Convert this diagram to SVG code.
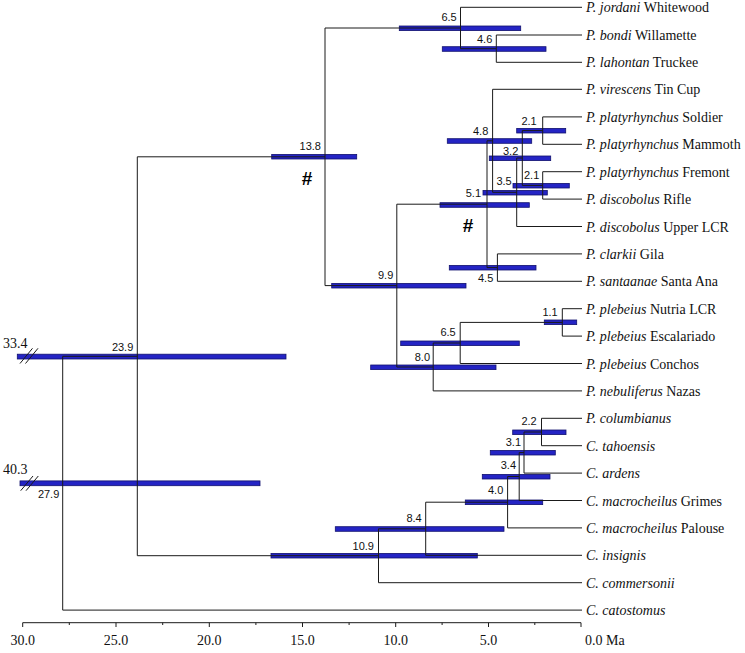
<svg xmlns="http://www.w3.org/2000/svg" width="745" height="653" viewBox="0 0 745 653">
<style>
.bar{fill:#2424c4;stroke:#12126e;stroke-width:0.8}
.age{font-family:"Liberation Sans",Arial,sans-serif;font-size:11px;fill:#111;text-anchor:end}
.tip{font-family:"Liberation Serif","Times New Roman",serif;font-size:14px;fill:#111}
.tip .i{font-style:italic}
.ax{font-family:"Liberation Serif","Times New Roman",serif;font-size:14px;fill:#111}
.br{fill:none;stroke:#1a1a1a;stroke-width:1}
.hash{font-family:"Liberation Sans",Arial,sans-serif;font-size:19px;font-weight:bold;fill:#000;text-anchor:middle}
</style>
<rect width="745" height="653" fill="#fff"/>
<g id="nodes">
<g id="n65a"><rect class="bar" x="399.3" y="26" width="121.4" height="4.6"/><text class="age" x="456.7" y="20.7">6.5</text></g>
<g id="n46"><rect class="bar" x="442.3" y="46.7" width="103.7" height="4.6"/><text class="age" x="492.3" y="43.3">4.6</text></g>
<g id="n138"><rect class="bar" x="271.7" y="154.4" width="85" height="4.6"/><text class="age" x="321" y="149.7">13.8</text><text class="hash" x="307" y="185">#</text></g>
<g id="n21a"><rect class="bar" x="516.7" y="128.4" width="49" height="4.6"/><text class="age" x="536.7" y="124.7">2.1</text></g>
<g id="n48"><rect class="bar" x="447.3" y="138.7" width="84.4" height="4.6"/><text class="age" x="488.3" y="134.7">4.8</text></g>
<g id="n32"><rect class="bar" x="489.3" y="156" width="61.4" height="4.6"/><text class="age" x="518.3" y="154.7">3.2</text></g>
<g id="n21b"><rect class="bar" x="513" y="183.4" width="56.3" height="4.6"/><text class="age" x="539.3" y="179">2.1</text></g>
<g id="n35"><rect class="bar" x="483" y="190.4" width="64.3" height="4.6"/><text class="age" x="511.7" y="184.7">3.5</text></g>
<g id="n51"><rect class="bar" x="440" y="202.7" width="89.3" height="4.6"/><text class="age" x="481" y="197.3">5.1</text><text class="hash" x="468" y="232">#</text></g>
<g id="n45"><rect class="bar" x="449.3" y="265.4" width="86.7" height="4.6"/><text class="age" x="493.3" y="281.5">4.5</text></g>
<g id="n99"><rect class="bar" x="331.7" y="283.4" width="134.3" height="4.6"/><text class="age" x="393.3" y="279">9.9</text></g>
<g id="n11"><rect class="bar" x="544.3" y="320" width="32.4" height="4.6"/><text class="age" x="557.7" y="315.7">1.1</text></g>
<g id="n65b"><rect class="bar" x="400.7" y="341" width="118.6" height="4.6"/><text class="age" x="455.7" y="335.7">6.5</text></g>
<g id="n80"><rect class="bar" x="370.7" y="365" width="125.3" height="4.6"/><text class="age" x="430" y="360.7">8.0</text></g>
<g id="n239"><rect class="bar" x="17.3" y="354.2" width="268.7" height="4.8"/><text class="age" x="133.3" y="350.7">23.9</text><text class="ax" x="3" y="347.5">33.4</text><path class="br" d="M20 363.5 L32.5 348.3 M25.5 363.5 L38 348.3"/></g>
<g id="n279"><rect class="bar" x="20" y="480.9" width="240" height="4.8"/><text class="age" x="59.3" y="498.3">27.9</text><text class="ax" x="3" y="474">40.3</text><path class="br" d="M20.7 490.7 L33 476 M26 490.7 L38.3 476"/></g>
<g id="n22"><rect class="bar" x="512.7" y="430" width="53.3" height="4.6"/><text class="age" x="536.7" y="424.7">2.2</text></g>
<g id="n31"><rect class="bar" x="490.3" y="450.4" width="65" height="4.6"/><text class="age" x="521" y="446.3">3.1</text></g>
<g id="n34"><rect class="bar" x="482.3" y="474.4" width="67.7" height="4.6"/><text class="age" x="516" y="469">3.4</text></g>
<g id="n40"><rect class="bar" x="465.3" y="500" width="77.4" height="4.6"/><text class="age" x="503.3" y="494">4.0</text></g>
<g id="n84"><rect class="bar" x="335.3" y="526.7" width="168.7" height="4.6"/><text class="age" x="421.7" y="522.3">8.4</text></g>
<g id="n109"><rect class="bar" x="271" y="553.4" width="206.3" height="4.6"/><text class="age" x="374" y="549.7">10.9</text></g>
</g>
<g id="connectors">
<path class="br" d="M582 7.3 H460.5 V48.7 H496.3"/>
<path class="br" d="M582 35 H496.3 V62.3 H582"/>
<path class="br" d="M460.5 28 H325 V285.6 H396.8"/>
<path class="br" d="M582 116.9 H542.7 V144.3 H582"/>
<path class="br" d="M582 171.7 H542.7 V199.1 H582"/>
<path class="br" d="M542.7 130.6 H522.3 V185.4 H542.7"/>
<path class="br" d="M522.3 158 H516.7 V226.5 H582"/>
<path class="br" d="M582 89.3 H492.6 V192.3 H516.7"/>
<path class="br" d="M582 253.9 H497.4 V281.3 H582"/>
<path class="br" d="M492.6 140.8 H487 V267.6 H497.4"/>
<path class="br" d="M582 308.7 H562.3 V336.1 H582"/>
<path class="br" d="M562.3 322.4 H460.2 V363.5 H582"/>
<path class="br" d="M460.2 343 H433.2 V390.9 H582"/>
<path class="br" d="M487 204.2 H396.8 V367 H433.2"/>
<path class="br" d="M582 418.3 H541.5 V445.7 H582"/>
<path class="br" d="M541.5 432 H524 V473.1 H582"/>
<path class="br" d="M524 452.6 H519.2 V500.5 H582"/>
<path class="br" d="M519.2 476.5 H507.6 V527.9 H582"/>
<path class="br" d="M507.6 502.2 H425.7 V555.3 H582"/>
<path class="br" d="M425.7 528.8 H378.5 V582.7 H582"/>
<path class="br" d="M325 156.8 H137.3 V555.7 H378.5"/>
<path class="br" d="M137.3 356.3 H62.7 V610.1 H582"/>
</g>
<g id="tips" class="tip">
<text x="586" y="12.3"><tspan class="i">P. jordani</tspan> Whitewood</text>
<text x="586" y="40"><tspan class="i">P. bondi</tspan> Willamette</text>
<text x="586" y="67.3"><tspan class="i">P. lahontan</tspan> Truckee</text>
<text x="586" y="94.3"><tspan class="i">P. virescens</tspan> Tin Cup</text>
<text x="586" y="121.9"><tspan class="i">P. platyrhynchus</tspan> Soldier</text>
<text x="586" y="149.3"><tspan class="i">P. platyrhynchus</tspan> Mammoth</text>
<text x="586" y="176.7"><tspan class="i">P. platyrhynchus</tspan> Fremont</text>
<text x="586" y="204.1"><tspan class="i">P. discobolus</tspan> Rifle</text>
<text x="586" y="231.5"><tspan class="i">P. discobolus</tspan> Upper LCR</text>
<text x="586" y="258.9"><tspan class="i">P. clarkii</tspan> Gila</text>
<text x="586" y="286.3"><tspan class="i">P. santaanae</tspan> Santa Ana</text>
<text x="586" y="313.7"><tspan class="i">P. plebeius</tspan> Nutria LCR</text>
<text x="586" y="341.1"><tspan class="i">P. plebeius</tspan> Escalariado</text>
<text x="586" y="368.5"><tspan class="i">P. plebeius</tspan> Conchos</text>
<text x="586" y="395.9"><tspan class="i">P. nebuliferus</tspan> Nazas</text>
<text x="586" y="423.3"><tspan class="i">P. columbianus</tspan></text>
<text x="586" y="450.7"><tspan class="i">C. tahoensis</tspan></text>
<text x="586" y="478.1"><tspan class="i">C. ardens</tspan></text>
<text x="586" y="505.5"><tspan class="i">C. macrocheilus</tspan> Grimes</text>
<text x="586" y="532.9"><tspan class="i">C. macrocheilus</tspan> Palouse</text>
<text x="586" y="560.3"><tspan class="i">C. insignis</tspan></text>
<text x="586" y="587.7"><tspan class="i">C. commersonii</tspan></text>
<text x="586" y="615.1"><tspan class="i">C. catostomus</tspan></text>
</g>
<g id="axis">
<path class="br" d="M22.7 622.7 H581 M22.7 622.7 V627 M116 622.7 V627 M209.3 622.7 V627 M302.5 622.7 V627 M395.7 622.7 V627 M488.5 622.7 V627 M581 622.7 V627 M69.3 622.7 V625 M162.7 622.7 V625 M255.9 622.7 V625 M349.1 622.7 V625 M442.1 622.7 V625 M534.8 622.7 V625"/>
<g class="ax" text-anchor="middle">
<text x="22.7" y="645">30.0</text>
<text x="116" y="645">25.0</text>
<text x="209.3" y="645">20.0</text>
<text x="302.5" y="645">15.0</text>
<text x="395.7" y="645">10.0</text>
<text x="488.5" y="645">5.0</text>
</g>
<text class="ax" x="585" y="645">0.0</text>
<text class="ax" x="606" y="645">Ma</text>
</g>
</svg>
